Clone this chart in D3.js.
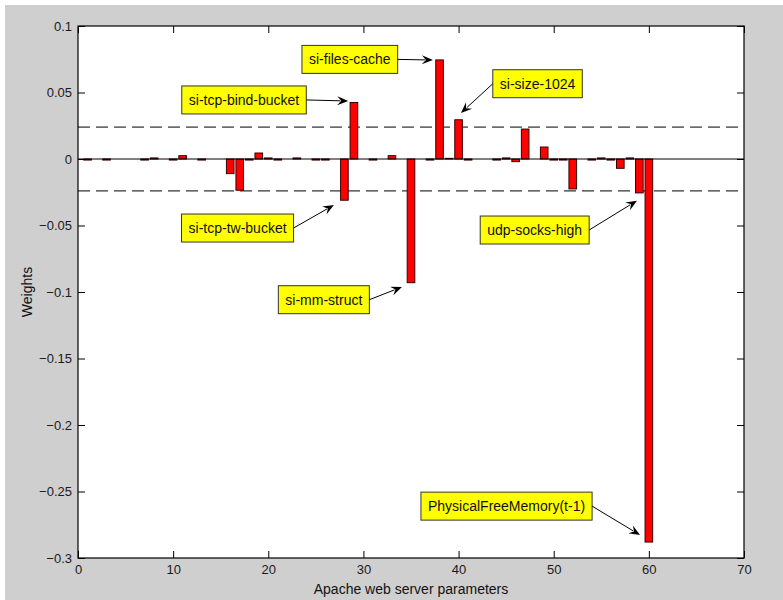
<!DOCTYPE html>
<html><head><meta charset="utf-8">
<script src="https://cdn.jsdelivr.net/npm/d3@7"></script>
<style>html,body{margin:0;padding:0;background:#fff}svg{display:block}</style>
</head><body>
<script>
// ---- data ----
const params = d3.range(1, 61);
const weights = [
  -0.0008, 0, -0.0008, 0, 0, 0, -0.0008, 0.0008, 0, -0.0008,
  0.0025, 0, -0.0008, 0, 0, -0.011, -0.0235, -0.0008, 0.0045, 0.0008,
  -0.0008, 0, 0.0008, 0, -0.0008, -0.0008, 0, -0.031, 0.0425, 0,
  -0.0008, 0, 0.0025, 0, -0.093, 0, -0.0008, 0.0745, 0.0005, 0.0295,
  -0.0008, 0, 0, -0.0008, 0.0008, -0.002, 0.0225, 0, 0.009, -0.0008,
  -0.0008, -0.0225, 0, -0.0008, 0.0008, -0.0008, -0.007, 0.0008, -0.0255, -0.288
];
const xTicks = [0, 10, 20, 30, 40, 50, 60, 70];
const yTicks = [-0.3, -0.25, -0.2, -0.15, -0.1, -0.05, 0, 0.05, 0.1];
const thresholds = [0.024, -0.024];
const annLabels = ["si-files-cache", "si-size-1024", "si-tcp-bind-bucket", "si-tcp-tw-bucket",
                   "si-mm-struct", "udp-socks-high", "PhysicalFreeMemory(t-1)"];
const annBoxX = [28.57, 48.3, 17.45, 16.77, 25.84, 48.0, 45.04];
const annBoxY = [0.0749, 0.0566, 0.0444, -0.0519, -0.1058, -0.0534, -0.261];
const annTipX = [37.3, 40.25, 28.4, 26.9, 34.05, 58.75, 59.07];
const annTipY = [0.0744, 0.0346, 0.0436, -0.0346, -0.0962, -0.0313, -0.2827];
const annSide = ["right", "left", "right", "right", "right", "right", "right"];

// ---- layout ----
const W = 783, H = 600;
const L = 78, R = 744, T = 26, B = 558;
const svg = d3.select("body").append("svg").attr("width", W).attr("height", H);
svg.append("rect").attr("x", 5).attr("y", 5).attr("width", W - 5).attr("height", H - 5).attr("fill", "#cfcfcf");

const x = d3.scaleLinear().domain([0, 70]).range([L, R]);
const y = d3.scaleLinear().domain([-0.3, 0.1]).range([B, T]);
const font = "'Liberation Sans', Arial, sans-serif";

svg.append("rect").attr("x", L).attr("y", T).attr("width", R - L).attr("height", B - T).attr("fill", "#fff");

// threshold dashed lines
svg.selectAll(".thr").data(thresholds).enter().append("line")
  .attr("x1", x(0)).attr("x2", x(70)).attr("y1", d => y(d)).attr("y2", d => y(d))
  .attr("stroke", "#000").attr("stroke-width", 1).attr("stroke-dasharray", "12,6");

// bars
const bw = x(0.8) - x(0);
svg.selectAll(".bar").data(params).enter().append("rect")
  .attr("x", (d, i) => x(d) - bw / 2)
  .attr("y", (d, i) => y(Math.max(0, weights[i])))
  .attr("width", bw)
  .attr("height", (d, i) => Math.abs(y(weights[i]) - y(0)))
  .attr("fill", "#ff0000").attr("stroke", "#3a0000").attr("stroke-width", 1);

// baseline
svg.append("line").attr("x1", x(0)).attr("x2", x(70)).attr("y1", y(0)).attr("y2", y(0))
  .attr("stroke", "#000").attr("stroke-width", 1);

// axes box
svg.append("rect").attr("x", L).attr("y", T).attr("width", R - L).attr("height", B - T)
  .attr("fill", "none").attr("stroke", "#000").attr("stroke-width", 1.2);

const tl = 7;
const axB = svg.append("g").attr("transform", `translate(0,${B})`)
  .call(d3.axisBottom(x).tickValues(xTicks).tickSize(-tl).tickPadding(7).tickFormat(d3.format("d")));
const axT = svg.append("g").attr("transform", `translate(0,${T})`)
  .call(d3.axisTop(x).tickValues(xTicks).tickSize(-tl).tickFormat(""));
const axL = svg.append("g").attr("transform", `translate(${L},0)`)
  .call(d3.axisLeft(y).tickValues(yTicks).tickSize(-tl).tickPadding(6).tickFormat(d => d3.format("")(+d.toFixed(2))));
const axR = svg.append("g").attr("transform", `translate(${R},0)`)
  .call(d3.axisRight(y).tickValues(yTicks).tickSize(-tl).tickFormat(""));
[axB, axT, axL, axR].forEach(g => {
  g.select(".domain").remove();
  g.selectAll(".tick line").attr("stroke", "#000");
  g.selectAll("text").attr("font-family", font).attr("font-size", 13).attr("fill", "#1a1a1a");
});
axB.selectAll(".tick text").attr("dy", "0.71em");

// axis labels
svg.append("text").attr("x", (L + R) / 2).attr("y", 594).attr("text-anchor", "middle")
  .attr("font-family", font).attr("font-size", 14).attr("fill", "#111").text("Apache web server parameters");
svg.append("text").attr("transform", `translate(32,${(T + B) / 2}) rotate(-90)`).attr("text-anchor", "middle")
  .attr("font-family", font).attr("font-size", 14).attr("fill", "#111").text("Weights");

// annotations
const ann = annLabels.map((t, i) => ({t, bx: x(annBoxX[i]), by: y(annBoxY[i]), tx: x(annTipX[i]), ty: y(annTipY[i]), side: annSide[i]}));
ann.forEach(a => {
  const g = svg.append("g");
  const rect = g.append("rect");
  const txt = g.append("text").attr("x", a.bx).attr("y", a.by).attr("dy", "0.36em")
    .attr("text-anchor", "middle").attr("font-family", font).attr("font-size", 14).attr("fill", "#111").text(a.t);
  const tw = txt.node().getComputedTextLength();
  const bwid = tw + 14, bh = 28;
  rect.attr("x", a.bx - bwid / 2).attr("y", a.by - bh / 2).attr("width", bwid).attr("height", bh)
    .attr("fill", "#ffff00").attr("stroke", "#333").attr("stroke-width", 1);
  const sx = a.side === "right" ? a.bx + bwid / 2 : a.bx - bwid / 2;
  const sy = a.by;
  const ang = Math.atan2(a.ty - sy, a.tx - sx);
  const hl = 11;
  const ex = a.tx - Math.cos(ang) * (hl - 3), ey = a.ty - Math.sin(ang) * (hl - 3);
  g.append("line").attr("x1", sx).attr("y1", sy).attr("x2", ex).attr("y2", ey)
    .attr("stroke", "#000").attr("stroke-width", 1);
  g.append("path").attr("d", `M0,0 L${-hl},${-4.5} L${-hl + 4},0 L${-hl},${4.5} Z`)
    .attr("transform", `translate(${a.tx},${a.ty}) rotate(${ang * 180 / Math.PI})`)
    .attr("fill", "#000");
});
</script>
</body></html>
